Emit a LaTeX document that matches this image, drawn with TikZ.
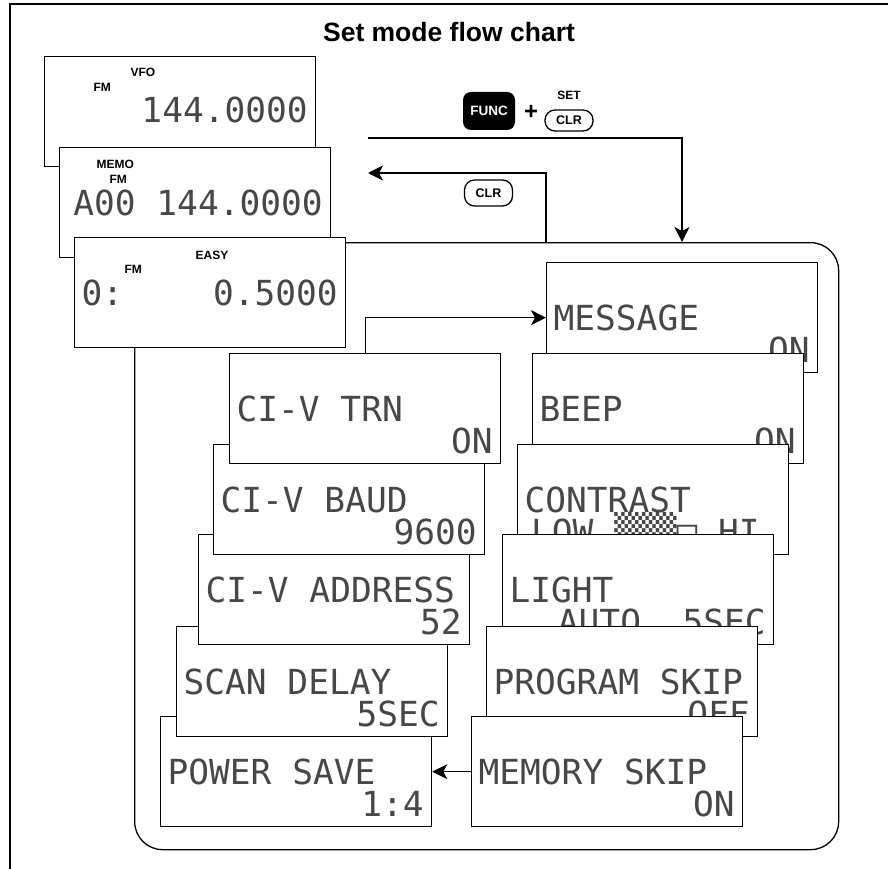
\documentclass[tikz,border=0pt]{standalone}
\usepackage{fontspec}
\setmainfont{Liberation Sans}
\newfontfamily\lcdfont{DejaVu Sans Mono}
\usetikzlibrary{arrows.meta,positioning}

\begin{document}
\begin{tikzpicture}[x=1pt,y=-1pt,line width=1.3pt,
  lcd/.style={draw,fill=white,inner sep=0pt,minimum width=271pt,minimum height=110pt,anchor=north west},
  lcdtxt/.style={inner sep=0pt,font=\lcdfont\fontsize{34.5}{34.5}\selectfont,text=black!72},
  tag/.style={inner sep=0pt,anchor=base west,font=\bfseries\fontsize{12}{12}\selectfont},
  key/.style={draw,rounded corners=10pt,inner sep=0pt,minimum width=48pt,minimum height=21pt,font=\bfseries\fontsize{12.5}{12.5}\selectfont},
  arr/.style={-{Stealth[length=15pt,width=15pt,inset=4pt]}}]
\useasboundingbox (0,0) rectangle (888,869);
\draw (888,4) -- (10,4) -- (10,869);
\node[inner sep=0pt,anchor=base,font=\bfseries\fontsize{26.5}{26.5}\selectfont] (title) at (449,42) {Set mode flow chart};
\node[draw,rounded corners=28pt,inner sep=0pt,minimum width=704pt,minimum height=607pt,anchor=north west] (setbox) at (134,242) {};
\node[lcd] (vfo) at (44,56) {};
\node[tag] (vfotag) at ([shift={(86,21)}]vfo.north west) {VFO};
\node[tag] (vfofm) at ([shift={(49,36)}]vfo.north west) {FM};
\node[lcdtxt,anchor=base east] (vfofreq) at ([shift={(-8,67)}]vfo.north east) {144.0000};
\node[lcd] (memo) at (59,147) {};
\node[tag] (memotag) at ([shift={(37,21)}]memo.north west) {MEMO};
\node[tag] (memofm) at ([shift={(50,36)}]memo.north west) {FM};
\node[lcdtxt,anchor=base east] (memofreq) at ([shift={(-8,68)}]memo.north east) {A00 144.0000};
\node[lcd] (easy) at (74,237) {};
\node[tag] (easytag) at ([shift={(121,22)}]easy.north west) {EASY};
\node[tag] (easyfm) at ([shift={(50,36)}]easy.north west) {FM};
\node[lcdtxt,anchor=base west] (easych) at ([shift={(7,68)}]easy.north west) {0:};
\node[lcdtxt,anchor=base east] (easyfreq) at ([shift={(-8,68)}]easy.north east) {0.5000};
\foreach \n/\x/\y/\a/\b in {psave/160/716/POWER SAVE/1:4,scan/176/626/SCAN DELAY/5SEC,
  addr/198/534/CI-V ADDRESS/52,baud/213/444/CI-V BAUD/9600,trn/229/353/CI-V TRN/ON,
  msg/546/262/MESSAGE/ON,beep/532/353/BEEP/ON,contrast/517/444/CONTRAST/LOW ▒▒▒□ HI\kern21pt,
  light/502/534/LIGHT/AUTO~~5SEC,prog/486/626/PROGRAM SKIP/OFF,memskip/471/716/MEMORY SKIP/ON}{
  \node[lcd] (\n) at (\x,\y) {};
  \node[lcdtxt,anchor=base west] (\n1) at ([shift={(7,68)}]\n.north west) {\a};
  \node[lcdtxt,anchor=base east] (\n2) at ([shift={(-8,100)}]\n.north east) {\b};}
\node[fill=black,rounded corners=8pt,minimum width=52pt,minimum height=38pt,inner sep=0pt,text=white,font=\bfseries\fontsize{13.5}{13.5}\selectfont] (func) at (489,111) {FUNC};
\node[inner sep=0pt,font=\bfseries\fontsize{24}{24}\selectfont] (plus) at (531,112) {+};
\node[key] (setclr) at (569,120.5) {CLR};
\node[tag,anchor=base] (settag) at (569,100) {SET};
\node[key,minimum height=26pt] (clr) at (488.5,193) {CLR};
\coordinate (fin) at (368,138);
\coordinate (setin) at (682,242);
\coordinate (setout) at (546,242);
\coordinate (memin) at (368,173);
\draw[arr] (fin) -| (setin);
\draw[arr] (setout) |- (memin);
\draw[arr] (trn.north) |- (msg.west);
\draw[arr] (memskip.west) -- (psave.east);
\end{tikzpicture}
\end{document}
